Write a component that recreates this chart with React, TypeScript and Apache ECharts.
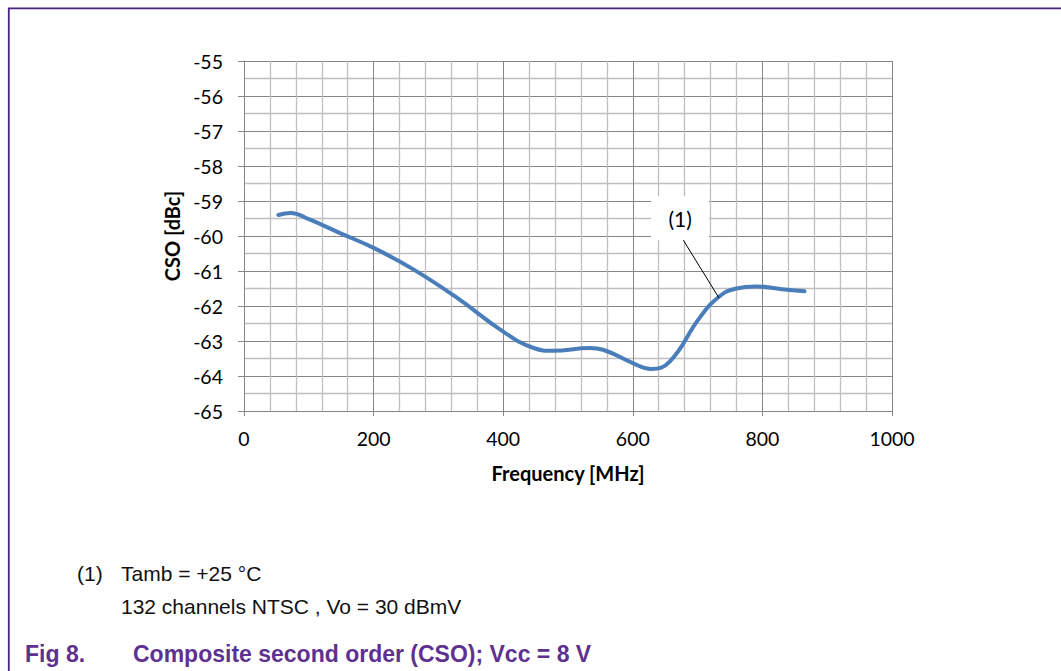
import { useEffect, useRef } from "react";
import * as echarts from "echarts";

// Measured CSO curve
const freqMHz = [53, 72, 100, 150, 200, 262, 329, 400, 447, 477, 534, 554, 600, 628, 657, 703, 734, 760, 790, 830, 865];
const csoDbc = [-59.4, -59.34, -59.52, -59.93, -60.34, -60.96, -61.77, -62.73, -63.2, -63.28, -63.2, -63.25, -63.63, -63.8, -63.59, -62.34, -61.72, -61.5, -61.44, -61.52, -61.58];

// Axis ranges
const xRange = [0, 1000];
const xStep = 200;
const yRange = [-65, -55];
const yStep = 1;

// Callout "(1)" pointing at the curve
const calloutText = "(1)";
const calloutBox = [673, -59.49];
const calloutFrom = [676, -60.06];
const calloutTo = [733, -61.77];

// Notes and caption
const noteIndex = "(1)";
const noteLines = ["Tamb = +25 °C", "132 channels NTSC , Vo = 30 dBmV"];
const figNumber = "Fig 8.";
const figTitle = "Composite second order (CSO); Vcc = 8 V";

const PURPLE_LINE = "#4B2381";
const PURPLE_TEXT = "#5E3190";
const AXIS_GRAY = "#868686";
const MINOR_GRAY = "#BFBFBF";
const CHART_FONT = "Lato";
const NOTE_FONT = "Liberation Sans, Arial, sans-serif";

export default function App() {
  const ref = useRef<HTMLDivElement>(null);

  useEffect(() => {
    if (!ref.current) return;
    const chart = echarts.init(ref.current, undefined, { renderer: "svg" });

    const points = freqMHz.map((f, i) => [f, csoDbc[i]]);

    chart.setOption({
      animation: false,
      backgroundColor: "#ffffff",
      textStyle: { fontFamily: CHART_FONT },
      grid: { left: 244, top: 61, right: 169, bottom: 260, containLabel: false },
      xAxis: {
        type: "value",
        min: xRange[0],
        max: xRange[1],
        interval: xStep,
        name: "Frequency [MHz]",
        nameLocation: "middle",
        nameGap: 52,
        nameTextStyle: { fontFamily: CHART_FONT, fontWeight: "bold", fontSize: 20, color: "#000" },
        axisLine: { show: true, lineStyle: { color: AXIS_GRAY, width: 1 } },
        axisTick: { show: true, length: 5, lineStyle: { color: AXIS_GRAY } },
        axisLabel: {
          fontFamily: CHART_FONT,
          fontSize: 19.5,
          color: "#000",
          margin: 17,
          formatter: (v: number) => String(v),
        },
        splitLine: { show: true, lineStyle: { color: AXIS_GRAY, width: 1 } },
        minorTick: { show: false, splitNumber: 5 },
        minorSplitLine: { show: true, lineStyle: { color: MINOR_GRAY, width: 1.3 } },
      },
      yAxis: {
        type: "value",
        min: yRange[0],
        max: yRange[1],
        interval: yStep,
        name: "CSO [dBc]",
        nameLocation: "middle",
        nameGap: 59,
        nameRotate: 90,
        nameTextStyle: { fontFamily: CHART_FONT, fontWeight: "bold", fontSize: 20, color: "#000" },
        axisLine: { show: true, lineStyle: { color: AXIS_GRAY, width: 1 } },
        axisTick: { show: true, length: 6, lineStyle: { color: AXIS_GRAY } },
        axisLabel: {
          fontFamily: CHART_FONT,
          fontSize: 19.5,
          color: "#000",
          margin: 21,
          formatter: (v: number) => String(v),
        },
        splitLine: { show: true, lineStyle: { color: AXIS_GRAY, width: 1 } },
        minorTick: { show: false, splitNumber: 2 },
        minorSplitLine: { show: true, lineStyle: { color: MINOR_GRAY, width: 1.3 } },
      },
      series: [
        {
          type: "line",
          data: points,
          smooth: 0.45,
          showSymbol: false,
          symbol: "none",
          lineStyle: { color: "#4A7EBB", width: 4, cap: "round" },
          z: 3,
          markLine: {
            silent: true,
            symbol: ["none", "none"],
            label: { show: false },
            lineStyle: { color: "#000", width: 1, type: "solid" },
            data: [[{ coord: calloutFrom }, { coord: calloutTo }]],
          },
          markPoint: {
            silent: true,
            symbol: "rect",
            symbolSize: [58, 44],
            itemStyle: { color: "#ffffff" },
            label: {
              show: true,
              formatter: calloutText,
              fontFamily: CHART_FONT,
              fontSize: 21,
              color: "#000",
            },
            data: [{ coord: calloutBox }],
          },
        },
      ],
      graphic: [
        { type: "line", shape: { x1: 8, y1: 8.3, x2: 1061, y2: 8.3 }, style: { stroke: PURPLE_LINE, lineWidth: 1.8 } },
        { type: "line", shape: { x1: 8.8, y1: 8, x2: 8.8, y2: 671 }, style: { stroke: PURPLE_LINE, lineWidth: 1.8 } },
        {
          type: "text",
          x: 77,
          y: 573,
          style: { text: noteIndex, font: `21px ${NOTE_FONT}`, fill: "#111", textVerticalAlign: "middle" },
        },
        {
          type: "text",
          x: 121,
          y: 573,
          style: { text: noteLines[0], font: `21px ${NOTE_FONT}`, fill: "#111", textVerticalAlign: "middle" },
        },
        {
          type: "text",
          x: 121,
          y: 606.5,
          style: { text: noteLines[1], font: `21px ${NOTE_FONT}`, fill: "#111", textVerticalAlign: "middle" },
        },
        {
          type: "text",
          x: 25,
          y: 653.5,
          style: { text: figNumber, font: `bold 23px ${NOTE_FONT}`, fill: PURPLE_TEXT, textVerticalAlign: "middle" },
        },
        {
          type: "text",
          x: 133,
          y: 653.5,
          style: { text: figTitle, font: `bold 23px ${NOTE_FONT}`, fill: PURPLE_TEXT, textVerticalAlign: "middle" },
        },
      ],
    });

    return () => chart.dispose();
  }, []);

  return (
    <div
      ref={ref}
      style={{ position: "absolute", left: 0, top: 0, width: 1061, height: 671, background: "#fff" }}
    />
  );
}
